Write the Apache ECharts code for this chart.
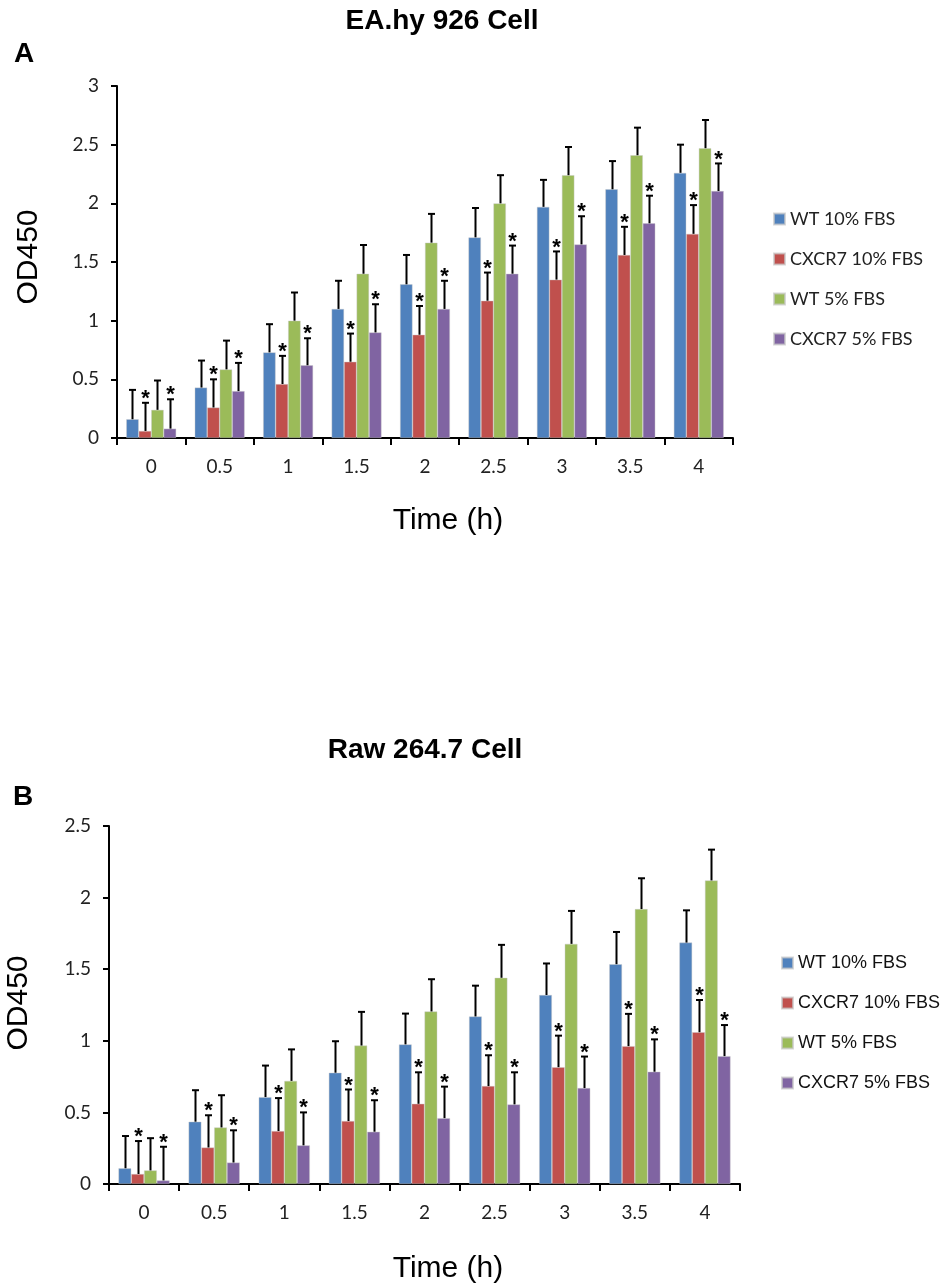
<!DOCTYPE html>
<html>
<head>
<meta charset="utf-8">
<script src="https://cdn.jsdelivr.net/npm/echarts@6/dist/echarts.min.js"></script>
<style>
  html, body { margin: 0; padding: 0; background: #fff; }
  #main { width: 940px; height: 1288px; }
</style>
</head>
<body>
<div id="main"></div>
<script>
// time points (h)
var times = ['0', '0.5', '1', '1.5', '2', '2.5', '3', '3.5', '4'];
var names = ['WT 10% FBS', 'CXCR7 10% FBS', 'WT 5% FBS', 'CXCR7 5% FBS'];
var colors = ['#4F81BD', '#C0504D', '#9BBB59', '#8064A2'];

// A: EA.hy 926 cell, OD450 means
var eaWt10 = [0.16, 0.43, 0.73, 1.10, 1.31, 1.71, 1.97, 2.12, 2.26];
var eaCx10 = [0.06, 0.26, 0.46, 0.65, 0.88, 1.17, 1.35, 1.56, 1.74];
var eaWt5 = [0.24, 0.585, 1.00, 1.40, 1.665, 2.00, 2.24, 2.41, 2.47];
var eaCx5 = [0.08, 0.40, 0.62, 0.90, 1.10, 1.40, 1.65, 1.83, 2.105];
// A: error (SD)
var eaWt10Err = [0.25, 0.23, 0.24, 0.24, 0.25, 0.25, 0.23, 0.24, 0.24];
var eaCx10Err = [0.24, 0.24, 0.24, 0.24, 0.245, 0.24, 0.24, 0.24, 0.245];
var eaWt5Err = [0.25, 0.245, 0.24, 0.245, 0.245, 0.24, 0.24, 0.235, 0.24];
var eaCx5Err = [0.25, 0.24, 0.23, 0.24, 0.24, 0.24, 0.24, 0.235, 0.235];

// B: Raw 264.7 cell, OD450 means
var rawWt10 = [0.11, 0.435, 0.607, 0.777, 0.975, 1.17, 1.32, 1.535, 1.686];
var rawCx10 = [0.07, 0.255, 0.37, 0.44, 0.56, 0.684, 0.816, 0.963, 1.06];
var rawWt5 = [0.095, 0.395, 0.72, 0.967, 1.205, 1.44, 1.677, 1.92, 2.12];
var rawCx5 = [0.025, 0.15, 0.27, 0.365, 0.46, 0.556, 0.67, 0.784, 0.893];
// B: error (SD)
var rawWt10Err = [0.225, 0.22, 0.22, 0.22, 0.215, 0.215, 0.22, 0.225, 0.225];
var rawCx10Err = [0.23, 0.225, 0.23, 0.22, 0.22, 0.215, 0.22, 0.225, 0.225];
var rawWt5Err = [0.225, 0.225, 0.22, 0.235, 0.225, 0.23, 0.23, 0.215, 0.215];
var rawCx5Err = [0.235, 0.225, 0.23, 0.22, 0.22, 0.224, 0.22, 0.226, 0.217];

// which groups are marked significant (*)
var starred = [false, true, false, true];

var CAT_GAP = 0.27;

var chart = echarts.init(document.getElementById('main'));

function errData(means, errs) {
    var out = [];
    means.forEach(function (m, s) {
        m.forEach(function (v, i) {
            out.push([i, v + errs[s][i], s, starred[s] ? 1 : 0, v]);
        });
    });
    return out;
}

function renderErr(params, api) {
    var band = api.size([1, 0])[0];
    var bw = band * (1 - CAT_GAP) / 4;
    var s = api.value(2);
    var top = api.coord([api.value(0), api.value(1)]);
    var base = api.coord([api.value(0), api.value(4)]);
    var x = Math.round(top[0] - band * (1 - CAT_GAP) / 2 + bw * (s + 0.5)) + 0.5;
    var st = { stroke: '#000', lineWidth: 2 };
    var kids = [
        { type: 'line', shape: { x1: x, y1: base[1], x2: x, y2: top[1] }, style: st },
        { type: 'line', shape: { x1: x - 3.5, y1: top[1], x2: x + 3.5, y2: top[1] }, style: st }
    ];
    if (api.value(3)) {
        kids.push({
            type: 'text',
            style: {
                text: '*', x: x, y: top[1] - 4,
                align: 'center', verticalAlign: 'middle',
                font: 'bold 22px "Liberation Sans", Arial, sans-serif', fill: '#000'
            }
        });
    }
    return { type: 'group', children: kids };
}

function barSeries(data, idx, axis) {
    return data.map(function (d, s) {
        return {
            name: names[s], type: 'bar',
            xAxisIndex: axis, yAxisIndex: axis,
            data: d,
            barGap: '0%', barCategoryGap: (CAT_GAP * 100) + '%',
            itemStyle: { color: colors[s], borderColor: 'rgba(200,200,200,0.7)', borderWidth: 0.6 },
            silent: true
        };
    });
}

var axisLabelFont = { fontFamily: 'Lato, sans-serif', fontSize: 19, color: '#222' };

function xAx(grid) {
    return {
        type: 'category', gridIndex: grid, data: times,
        axisLine: { lineStyle: { color: '#000', width: 2 } },
        axisTick: { show: true, length: 7, lineStyle: { color: '#000', width: 2 } },
        axisLabel: Object.assign({ margin: 19 }, axisLabelFont)
    };
}
function yAx(grid, max) {
    return {
        type: 'value', gridIndex: grid, min: 0, max: max, interval: 0.5,
        splitLine: { show: false },
        axisLine: { show: true, lineStyle: { color: '#000', width: 2 } },
        axisTick: { show: true, length: 6, lineStyle: { color: '#000', width: 2 } },
        axisLabel: Object.assign({ margin: 18 }, axisLabelFont)
    };
}

var eaMeans = [eaWt10, eaCx10, eaWt5, eaCx5];
var eaErrs = [eaWt10Err, eaCx10Err, eaWt5Err, eaCx5Err];
var rawMeans = [rawWt10, rawCx10, rawWt5, rawCx5];
var rawErrs = [rawWt10Err, rawCx10Err, rawWt5Err, rawCx5Err];

var bigFont = '"Liberation Sans", Arial, sans-serif';

var option = {
    animation: false,
    backgroundColor: '#fff',
    grid: [
        { left: 117, top: 86, width: 616, height: 352 },
        { left: 109, top: 826, width: 631, height: 358 }
    ],
    xAxis: [xAx(0), xAx(1)],
    yAxis: [yAx(0, 3), yAx(1, 2.5)],
    legend: [
        {
            data: names, orient: 'vertical', left: 768, top: 205,
            itemWidth: 11, itemHeight: 11, itemGap: 22, icon: 'rect',
            textStyle: { fontFamily: 'Lato, sans-serif', fontSize: 18, color: '#222' },
            selectedMode: false
        },
        {
            data: names, orient: 'vertical', left: 776, top: 949,
            itemWidth: 11, itemHeight: 11, itemGap: 22, icon: 'rect',
            textStyle: { fontFamily: bigFont, fontSize: 18, color: '#111' },
            selectedMode: false
        }
    ],
    graphic: [
        { type: 'text', x: 442, y: 21, style: { text: 'EA.hy 926 Cell', font: 'bold 28px ' + bigFont, align: 'center', verticalAlign: 'middle', fill: '#000' } },
        { type: 'text', x: 24, y: 54, style: { text: 'A', font: 'bold 28px ' + bigFont, align: 'center', verticalAlign: 'middle', fill: '#000' } },
        { type: 'text', x: 29, y: 257, rotation: Math.PI / 2, style: { text: 'OD450', font: '30px ' + bigFont, align: 'center', verticalAlign: 'middle', fill: '#000' } },
        { type: 'text', x: 448, y: 521, style: { text: 'Time (h)', font: '30px ' + bigFont, align: 'center', verticalAlign: 'middle', fill: '#000' } },

        { type: 'text', x: 425, y: 750, style: { text: 'Raw 264.7 Cell', font: 'bold 28px ' + bigFont, align: 'center', verticalAlign: 'middle', fill: '#000' } },
        { type: 'text', x: 23, y: 797, style: { text: 'B', font: 'bold 28px ' + bigFont, align: 'center', verticalAlign: 'middle', fill: '#000' } },
        { type: 'text', x: 19, y: 1003, rotation: Math.PI / 2, style: { text: 'OD450', font: '30px ' + bigFont, align: 'center', verticalAlign: 'middle', fill: '#000' } },
        { type: 'text', x: 448, y: 1269, style: { text: 'Time (h)', font: '30px ' + bigFont, align: 'center', verticalAlign: 'middle', fill: '#000' } }
    ],
    series: barSeries(eaMeans, 0, 0).concat(barSeries(rawMeans, 0, 1)).concat([
        {
            type: 'custom', xAxisIndex: 0, yAxisIndex: 0, z: 5, silent: true,
            renderItem: renderErr, data: errData(eaMeans, eaErrs),
            encode: { x: 0, y: 1 }
        },
        {
            type: 'custom', xAxisIndex: 1, yAxisIndex: 1, z: 5, silent: true,
            renderItem: renderErr, data: errData(rawMeans, rawErrs),
            encode: { x: 0, y: 1 }
        }
    ])
};

chart.setOption(option);
</script>
</body>
</html>
